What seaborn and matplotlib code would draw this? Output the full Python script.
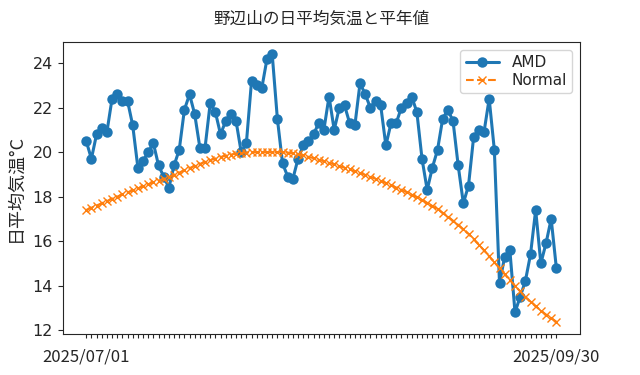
import matplotlib
matplotlib.use("Agg")
import matplotlib.pyplot as plt
import seaborn as sns
import pandas as pd

# 2025/07/01 - 2025/09/30, daily mean temperature at Nobeyama
dates = pd.date_range("2025-07-01", "2025-09-30", freq="D")

amd = [
    20.5, 19.7, 20.8, 21.1, 20.9, 22.4, 22.6, 22.3, 22.3, 21.2,
    19.3, 19.6, 20.0, 20.4, 19.4, 18.9, 18.4, 19.4, 20.1, 21.9,
    22.6, 21.7, 20.2, 20.2, 22.2, 21.8, 20.8, 21.4, 21.7, 21.4,
    20.0, 20.4, 23.2, 23.0, 22.9, 24.2, 24.4, 21.5, 19.5, 18.9,
    18.8, 19.7, 20.3, 20.5, 20.8, 21.3, 21.0, 22.5, 21.0, 22.0,
    22.1, 21.3, 21.2, 23.1, 22.6, 22.0, 22.3, 22.1, 20.3, 21.3,
    21.3, 22.0, 22.2, 22.5, 21.8, 19.7, 18.3, 19.3, 20.1, 21.5,
    21.9, 21.4, 19.4, 17.7, 18.5, 20.7, 21.0, 20.9, 22.4, 20.1,
    14.1, 15.3, 15.6, 12.8, 13.5, 14.2, 15.4, 17.4, 15.0, 15.9,
    17.0, 14.8,
]

normal = [
    17.40, 17.50, 17.60, 17.70, 17.80, 17.90, 18.00, 18.10, 18.19, 18.28,
    18.37, 18.46, 18.55, 18.64, 18.72, 18.80, 18.88, 18.98, 19.08, 19.18,
    19.28, 19.38, 19.47, 19.56, 19.64, 19.71, 19.78, 19.84, 19.89, 19.93,
    19.96, 19.98, 20.00, 20.00, 20.00, 20.00, 20.00, 20.00, 20.00, 19.98,
    19.95, 19.90, 19.85, 19.79, 19.73, 19.66, 19.59, 19.52, 19.45, 19.37,
    19.30, 19.22, 19.14, 19.06, 18.98, 18.89, 18.80, 18.71, 18.61, 18.51,
    18.41, 18.31, 18.20, 18.09, 17.97, 17.85, 17.72, 17.58, 17.43, 17.27,
    17.10, 16.92, 16.73, 16.53, 16.32, 16.08, 15.84, 15.58, 15.32, 15.05,
    14.78, 14.51, 14.25, 13.99, 13.74, 13.50, 13.28, 13.07, 12.88, 12.70,
    12.54, 12.38,
]

df = pd.DataFrame({"date": dates, "AMD": amd, "Normal": normal})

sns.set_style("ticks")
jp = ["Noto Sans CJK JP", "DejaVu Sans"]

fig, ax = plt.subplots(figsize=(6.4, 3.75), dpi=100)
fig.subplots_adjust(left=0.098, right=0.906, top=0.888, bottom=0.109)

sns.lineplot(data=df, x="date", y="AMD", ax=ax, marker="o", markersize=7.5,
             markeredgewidth=0, color="#1f77b4", linewidth=2.2, label="AMD")
sns.lineplot(data=df, x="date", y="Normal", ax=ax, marker="x", markersize=5.5,
             markeredgewidth=1.0, markeredgecolor="#ff7f0e",
             color="#ff7f0e", linewidth=1.5, linestyle="--", label="Normal")

ax.set_ylim(11.82, 24.95)
ax.set_yticks([12, 14, 16, 18, 20, 22, 24])
ax.margins(x=0.05)

# one tick per day, label only the first and last day
ax.set_xticks(dates)
labels = [""] * len(dates)
labels[0] = dates[0].strftime("%Y/%m/%d")
labels[-1] = dates[-1].strftime("%Y/%m/%d")
ax.set_xticklabels(labels, family=jp, fontsize=12)
ax.tick_params(axis="x", length=3, pad=7)
ax.tick_params(axis="y", labelsize=11.5)

ax.set_xlabel("")
ax.set_ylabel("日平均気温°C", family=jp, fontsize=13, labelpad=6)
ax.set_title("野辺山の日平均気温と平年値", family=jp, fontsize=12, pad=13)
ax.legend(loc="upper right", fontsize=11, labelspacing=0.2, borderpad=0.35,
          handlelength=2.2)

fig.savefig("out.png", dpi=100)
